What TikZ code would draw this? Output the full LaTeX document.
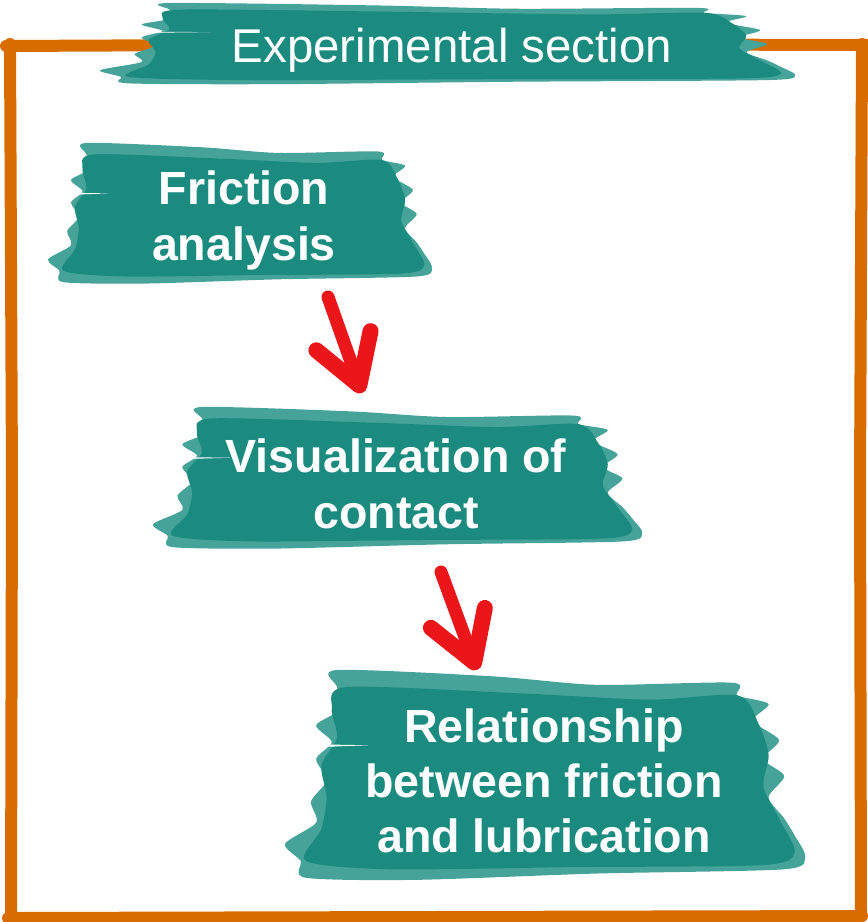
\documentclass[tikz,border=0pt]{standalone}
\usepackage{fontspec}
\setmainfont{Liberation Sans}
\usetikzlibrary{arrows.meta}
\definecolor{tealD}{RGB}{27,139,127}
\definecolor{tealL}{RGB}{70,163,153}
\definecolor{frameorange}{RGB}{217,108,0}
\definecolor{arrowred}{RGB}{235,22,26}
\def\brushbox(#1,#2)(#3,#4){%
  \begin{scope}[shift={(#1,#2)},xscale=#3,yscale=#4]
    \fill[tealL] plot[smooth cycle,tension=0.45] coordinates {(0.10,0.00) (0.40,0.03) (0.60,0.07) (0.86,0.06) (0.87,0.12) (0.93,0.16) (0.90,0.24) (0.95,0.33) (0.92,0.42) (0.96,0.50) (0.93,0.60) (0.96,0.70) (0.98,0.78) (1.00,0.88) (0.96,0.94) (0.60,0.96) (0.25,0.99) (0.04,0.98) (0.03,0.90) (0.00,0.82) (0.06,0.72) (0.05,0.62) (0.08,0.52) (0.06,0.42) (0.09,0.34) (0.06,0.26) (0.11,0.18) (0.10,0.08)};
    \fill[tealD] plot[smooth cycle,tension=0.45] coordinates {(0.12,0.08) (0.45,0.11) (0.70,0.14) (0.87,0.12) (0.91,0.25) (0.93,0.40) (0.92,0.55) (0.95,0.70) (0.98,0.86) (0.92,0.92) (0.55,0.93) (0.20,0.94) (0.04,0.90) (0.07,0.75) (0.08,0.60) (0.07,0.45) (0.10,0.32) (0.09,0.18)};
    \fill[white] (0.05,0.35) -- (0.16,0.355) -- (0.05,0.365) -- cycle;
  \end{scope}}

\begin{document}
\begin{tikzpicture}[x=0.02cm,y=-0.02cm,
  boxtext/.style={text=white, font=\fontsize{26.5}{31.5}\selectfont\bfseries, align=center, inner sep=0pt},
  titletext/.style={text=white, font=\fontsize{27}{32}\selectfont, inner sep=0pt},
  frameline/.style={draw=frameorange, line width=0.24cm, line cap=round},
  redarrow/.style={draw=arrowred, line width=0.26cm, line cap=round,
    -{Straight Barb[length=0.95cm, width=1.15cm, line width=0.32cm, round]}}]
			%%%%% START %%%%%
			\useasboundingbox (0,0) rectangle (867,922);
			
			% hand-drawn frame
			\draw[frameline] (6,46) -- (430,44) -- (867,45);
			\draw[frameline] (10,44) -- (12,480) -- (11,918);
			\draw[frameline] (862,44) -- (860,480) -- (861,916);
			\draw[frameline] (8,918) -- (430,917) -- (862,916);
			
			% brush strokes
			\brushbox(100,3)(695,82)
			\brushbox(48,143)(384,142)
			\brushbox(153,407)(489,143)
			\brushbox(285,670)(520,212)
			
			\node[titletext] (title) at (452,50) {Experimental section};
			\node[boxtext] (fric) at (244,220.5) {Friction\\analysis};
			\node[boxtext] (vis) at (396,484) {Visualization of\\contact};
			\node[boxtext] (rel) at (544,781) {Relationship\\between friction\\and lubrication};
			
			% red arrows
			\coordinate (a1s) at (328,297);
			\coordinate (a1e) at (362,393);
			\coordinate (a2s) at (441,572);
			\coordinate (a2e) at (477,670);
			\draw[redarrow] (a1s) -- (a1e);
			\draw[redarrow] (a2s) -- (a2e);
			%%%%% END %%%%%
\end{tikzpicture}
\end{document}
